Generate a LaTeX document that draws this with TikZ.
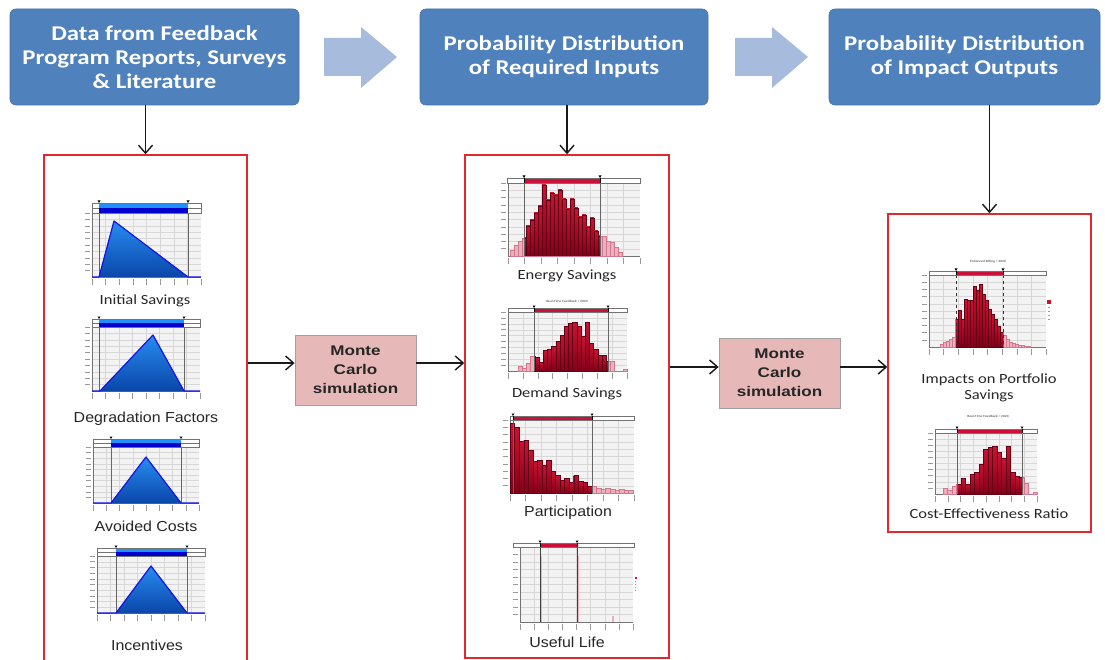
\documentclass[tikz,border=0pt]{standalone}
\usepackage{fontspec}
\setmainfont{Carlito}[FakeStretch=1.18]
\newfontfamily\arialmc{Liberation Sans}[FakeStretch=1.22]
\newfontfamily\ariallb{Liberation Sans}[FakeStretch=1.1]
\usetikzlibrary{arrows.meta}

\definecolor{hdrblue}{RGB}{79,129,189}
\definecolor{arrowblue}{RGB}{167,187,221}
\definecolor{mcfill}{RGB}{230,185,184}
\definecolor{mcborder}{RGB}{160,160,160}
\definecolor{framered}{RGB}{224,40,45}
\definecolor{plotbg}{RGB}{243,243,243}
\definecolor{gridc}{RGB}{215,215,215}
\definecolor{lbrow}{RGB}{30,144,255}
\definecolor{dbrow}{RGB}{0,0,205}
\definecolor{tritop}{RGB}{40,140,240}
\definecolor{tribot}{RGB}{10,70,170}
\definecolor{triedge}{RGB}{20,20,230}
\definecolor{redseg}{RGB}{205,16,58}
\definecolor{bartop}{RGB}{200,20,50}
\definecolor{barbot}{RGB}{130,0,25}
\definecolor{baredge}{RGB}{100,0,20}
\definecolor{palefill}{RGB}{236,175,190}
\definecolor{paleedge}{RGB}{210,120,140}

% plot area with grid and tick marks
\newcommand\plotarea[4]{%
  \fill[plotbg] (#1,#2) rectangle (#3,#4);
  \foreach \k in {1,...,7}{\draw[gridln] ({#1+\k*(#3-#1)/8},#2) -- ({#1+\k*(#3-#1)/8},#4);}
  \foreach \k in {1,...,9}{\draw[gridln] (#1,{#2+\k*(#4-#2)/10}) -- (#3,{#2+\k*(#4-#2)/10});}
  \draw[axisln] (#1,#2) -- (#1,#4) -- (#3,#4);
  \foreach \k in {0,...,8}{\draw[ticklb] ({#1+\k*(#3-#1)/8},{#4+2}) -- ++(0,6);}
  \foreach \k in {0,...,9}{\draw[ticklb] ({#1-7},{#2+\k*(#4-#2)/10}) -- ++(5,0);}
}
% two-row blue top bar: x0 y0 x1 y1 a b ybase
\newcommand\bluebar[7]{%
  \draw[segln] (#5,#4) -- (#5,#7) (#6,#4) -- (#6,#7);
  \fill[white] (#1,#2) rectangle (#3,#4);
  \fill[lbrow] (#5,#2) rectangle (#6,{(#2+#4)/2});
  \fill[dbrow] (#5,{(#2+#4)/2}) rectangle (#6,#4);
  \draw[barframe] (#1,#2) rectangle (#3,#4);
  \draw[barframe] (#1,{(#2+#4)/2}) -- (#5,{(#2+#4)/2}) (#6,{(#2+#4)/2}) -- (#3,{(#2+#4)/2});
  \fill[black] (#5,#2) -- ++(-1.5,-2.5) -- ++(3,0) -- cycle;
  \fill[black] (#6,#2) -- ++(-1.5,-2.5) -- ++(3,0) -- cycle;
}
% red top bar: x0 y0 x1 y1 a b ybase linestyle
\newcommand\redbar[8]{%
  \draw[segln,#8] (#5,#4) -- (#5,#7) (#6,#4) -- (#6,#7);
  \fill[white] (#1,#2) rectangle (#3,#4);
  \fill[redseg] (#5,#2) rectangle (#6,#4);
  \draw[barframe] (#1,#2) rectangle (#3,#4);
  \draw[black,line width=0.4] (#5,#2) -- (#5,#4) (#6,#2) -- (#6,#4);
  \fill[black] (#5,#2) -- ++(-1.5,-2.5) -- ++(3,0) -- cycle;
  \fill[black] (#6,#2) -- ++(-1.5,-2.5) -- ++(3,0) -- cycle;
}
% histogram: x0 bw base list style
\newcommand\hist[5]{%
  \foreach \hh [count=\ii from 0] in #4 {\path[#5] ({#1+\ii*#2},#3) rectangle ({#1+(\ii+1)*#2},{#3-\hh});}
}
\newcommand\esdata{6,11,15,18,30,36,43,50,71,56,63,61,66,57,47,57,48,39,41,29,38,25,20,20,15,14,9,4}
\newcommand\dsdata{5,3,8,15,14,9,21,22,25,30,36,45,48,49,45,35,49,28,22,16,16,10,10,0,0,2}
\newcommand\padata{70,66,52,53,43,32,33,28,33,22,18,13,15,11,18,12,11,7,7,5,4,5,4,3,4,3,3}
\newcommand\ipdata{3,5,6,8,10,28,37,28,48,47,47,61,57,63,53,47,38,33,28,21,15,12,8,5,4,3,2,2,1,1}
\newcommand\cedata{6,4,8,10,16,10,20,22,30,45,47,48,42,36,48,22,18,17,11,0,2}

\begin{document}
\begin{tikzpicture}[x=1pt,y=-1pt,
  hdr/.style={draw=hdrblue!85!black, line width=0.6, fill=hdrblue, rounded corners=6pt,
    text=white, align=center, font=\bfseries\fontsize{21}{24}\selectfont},
  mc/.style={draw=mcborder, line width=0.8, fill=mcfill, align=center,
    font=\arialmc\bfseries\fontsize{14}{19}\selectfont, text=black!85},
  redframe/.style={draw=framered, line width=1.5},
  conn/.style={draw=black!90, line width=1.4, -{Straight Barb[length=8pt,width=14pt]}},
  lbl/.style={font=\fontsize{14}{16}\selectfont, text=black!85, inner sep=0, align=center},
  albl/.style={font=\ariallb\fontsize{14.5}{16}\selectfont, text=black!85, inner sep=0},
  tinytitle/.style={font=\fontsize{3.2}{4}\selectfont, text=black!80, inner sep=0},
  gridln/.style={draw=gridc, line width=0.3},
  axisln/.style={draw=black!55, line width=0.4},
  ticklb/.style={draw=black!40, line width=0.5},
  segln/.style={draw=black!60, line width=0.7},
  barframe/.style={draw=black!55, line width=0.4},
  tri/.style={top color=tritop, bottom color=tribot},
  triline/.style={draw=triedge, line width=1.2, line join=round},
  darkbar/.style={top color=bartop, bottom color=barbot, draw=baredge, line width=0.25},
  palebar/.style={fill=palefill, draw=paleedge, line width=0.25}
]
\useasboundingbox (0,0) rectangle (1105,660);
\fill[white] (0,0) rectangle (1105,660);

% ---------- header boxes ----------
\node[hdr, minimum width=289, minimum height=96] (h1) at (154.5,57)
  {Data from Feedback\\Program Reports, Surveys\\\& Literature};
\node[hdr, minimum width=288, minimum height=96] (h2) at (564,57)
  {Probability Distribution\\of Required Inputs};
\node[hdr, minimum width=271, minimum height=96] (h3) at (964.5,57)
  {Probability Distribution\\of Impact Outputs};

% block arrows
\fill[arrowblue] (324,38) -- (361,38) -- (361,27) -- (397,57) -- (361,88) -- (361,76) -- (324,76) -- cycle;
\fill[arrowblue] (735,38) -- (772,38) -- (772,27) -- (808,57) -- (772,88) -- (772,76) -- (735,76) -- cycle;

% ---------- frames ----------
\node[redframe, minimum width=203, minimum height=508] (f1) at (145.5,409) {};
\node[redframe, minimum width=204, minimum height=503] (f2) at (567,406.5) {};
\node[redframe, minimum width=203, minimum height=318] (f3) at (989.5,373) {};

% ---------- Monte Carlo boxes ----------
\node[mc, minimum width=121, minimum height=70] (mc1) at (355.5,370) {Monte\\Carlo\\simulation};
\node[mc, minimum width=121, minimum height=70] (mc2) at (779.5,373) {Monte\\Carlo\\simulation};

% ---------- connectors ----------
\draw[conn] (f1.north |- h1.south) -- (f1.north);
\draw[conn] (f2.north |- h2.south) -- (f2.north);
\draw[conn] (f3.north |- h3.south) -- (f3.north);
\draw[conn] ([yshift=7pt]mc1.west -| f1.east) -- ([yshift=7pt]mc1.west);
\draw[conn] ([yshift=7pt]mc1.east) -- ([yshift=7pt]mc1.east -| f2.west);
\draw[conn] ([yshift=6pt]mc2.west -| f2.east) -- ([yshift=6pt]mc2.west);
\draw[conn] ([yshift=6pt]mc2.east) -- ([yshift=6pt]mc2.east -| f3.west);

% ---------- column 1: blue triangle charts ----------
% Initial Savings
\plotarea{92}{213}{201}{277}
\bluebar{92}{203}{201}{213}{99}{188}{277}
\fill[tri] (99,277) -- (114,221) -- (188,277) -- cycle;
\draw[triline] (92,277) -- (99,277) -- (114,221) -- (188,277) -- (201,277);
\node[lbl] (lis) at (145,301) {Initial Savings};
% Degradation Factors
\plotarea{92}{327}{200}{391}
\bluebar{92}{319}{200}{327}{99}{184}{391}
\fill[tri] (100,391) -- (153,335) -- (184,391) -- cycle;
\draw[triline] (92,391) -- (100,391) -- (153,335) -- (184,391) -- (200,391);
\node[albl] (ldf) at (146,419) {Degradation Factors};
% Avoided Costs
\plotarea{93}{447}{199}{503}
\bluebar{93}{439}{199}{447}{111}{181}{503}
\fill[tri] (111,503) -- (146,457) -- (181,503) -- cycle;
\draw[triline] (93,503) -- (111,503) -- (146,457) -- (181,503) -- (199,503);
\node[albl] (lac) at (146,526) {Avoided Costs};
% Incentives
\plotarea{97}{556}{205}{613}
\bluebar{97}{548}{205}{556}{116}{187}{613}
\fill[tri] (116,613) -- (151,566) -- (187,613) -- cycle;
\draw[triline] (97,613) -- (116,613) -- (151,566) -- (187,613) -- (205,613);
\node[albl] (lin) at (147,645) {Incentives};

% ---------- column 2: red histograms ----------
% Energy Savings
\plotarea{508}{183}{640}{256}
\hist{510}{4}{256}{\esdata}{palebar}
\begin{scope}\clip (524,183) rectangle (600,256); \hist{510}{4}{256}{\esdata}{darkbar}\end{scope}
\redbar{507}{178}{640}{183}{524}{600}{256}{}
\node[lbl] (les) at (567,276) {Energy Savings};
% Demand Savings
\node[tinytitle] (tds) at (567,301) {Real-Time Feedback / 2020};
\plotarea{508}{312}{627}{371}
\hist{518}{4.2}{371}{\dsdata}{palebar}
\begin{scope}\clip (534,312) rectangle (608,371); \hist{518}{4.2}{371}{\dsdata}{darkbar}\end{scope}
\redbar{508}{308}{627}{312}{534}{608}{371}{}
\node[lbl] (lds) at (567,394) {Demand Savings};
% Participation
\plotarea{510}{420}{634}{493}
\hist{510}{4.55}{493}{\padata}{palebar}
\begin{scope}\clip (510,420) rectangle (592,493); \hist{510}{4.55}{493}{\padata}{darkbar}\end{scope}
\redbar{510}{416}{634}{420}{513}{592}{493}{}
\node[albl] (lpa) at (568,513) {Participation};
% Useful Life
\plotarea{520}{547}{633}{622}
\draw[palefill, line width=1.2] (541.5,556) -- (541.5,622) (578.5,556) -- (578.5,622) (613,616) -- (613,622);
\redbar{513}{543}{634}{547}{540}{577}{622}{draw=black!75,line width=0.9}
\fill[bartop] (634.5,577) rectangle (636.5,579);
\foreach \d in {581,584,587,590}{\fill[black!40] (635,\d) rectangle (636,{\d+1});}
\node[albl] (lul) at (567,642) {Useful Life};

% ---------- column 3: outputs ----------
% Impacts on Portfolio Savings
\node[tinytitle] (tip) at (988,262) {Enhanced Billing / 2020};
\plotarea{929}{275}{1046}{347}
\hist{940}{3}{347}{\ipdata}{palebar}
\begin{scope}\clip (956,275) rectangle (1003,347); \hist{940}{3}{347}{\ipdata}{darkbar}\end{scope}
\redbar{929}{271}{1046}{275}{956}{1003}{347}{dashed,draw=black!80}
\fill[bartop] (1047,300) rectangle (1051,304);
\foreach \d in {307,311,315,319}{\fill[black!40] (1048,\d) rectangle (1050,{\d+1.2});}
\node[lbl] (lip) at (989,388) {Impacts on Portfolio\\Savings};
% Cost-Effectiveness Ratio
\node[tinytitle] (tce) at (988,416) {Real-Time Feedback / 2020};
\plotarea{935}{433}{1037}{494}
\hist{943}{4.5}{494}{\cedata}{palebar}
\begin{scope}\clip (957,433) rectangle (1022,494); \hist{943}{4.5}{494}{\cedata}{darkbar}\end{scope}
\redbar{935}{429}{1037}{433}{957}{1022}{494}{}
\node[lbl] (lce) at (989,514) {Cost-Effectiveness Ratio};
\end{tikzpicture}
\end{document}
